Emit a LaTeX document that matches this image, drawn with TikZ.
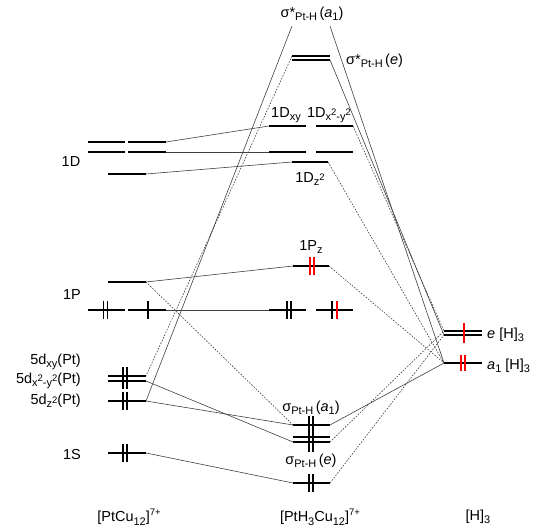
\documentclass[tikz,border=0pt]{standalone}
\usepackage{fontspec}
\setmainfont{Liberation Sans}
\begin{document}
\newcommand\sbs[1]{\raisebox{-0.45ex}{\fontsize{11}{11}\selectfont #1}}
\newcommand\sps[1]{\raisebox{0.85ex}{\fontsize{9.5}{9.5}\selectfont #1}}
\begin{tikzpicture}[x=1pt,y=-1pt,
  lvl/.style={line width=2.2pt,black},
  conn/.style={line width=0.6pt,black!75},
  dconn/.style={line width=0.6pt,black!75,dash pattern=on 1.6pt off 1.4pt},
  el/.style={line width=1.8pt,black},
  rel/.style={line width=1.8pt,red},
  lab/.style={inner sep=0pt,font=\fontsize{14.5}{16}\selectfont}]
\useasboundingbox (0,0) rectangle (558,530);
% ---------- column 1 coordinates ----------
\coordinate (DaL) at (88,142);  \coordinate (DaR) at (125,142);
\coordinate (DbL) at (128,142); \coordinate (DbR) at (166,142);
\coordinate (DcL) at (88,152);  \coordinate (DcR) at (125,152);
\coordinate (DdL) at (128,152); \coordinate (DdR) at (166,152);
\coordinate (DzL) at (108,174); \coordinate (DzR) at (146,174);
\coordinate (PuL) at (108,282); \coordinate (PuR) at (146,282);
\coordinate (PaL) at (88,310);  \coordinate (PaR) at (125,310);
\coordinate (PbL) at (128,310); \coordinate (PbR) at (166,310);
\coordinate (XaL) at (108,376); \coordinate (XaR) at (146,376);
\coordinate (XbL) at (108,381); \coordinate (XbR) at (146,381);
\coordinate (ZL) at (108,401);  \coordinate (ZR) at (146,401);
\coordinate (SL) at (108,453);  \coordinate (SR) at (146,453);
% ---------- column 2 coordinates ----------
\coordinate (AsL) at (292,26);  \coordinate (AsR) at (330,26);
\coordinate (EsaL) at (292,56); \coordinate (EsaR) at (330,56);
\coordinate (EsbL) at (292,60); \coordinate (EsbR) at (330,60);
\coordinate (MaL) at (269,126); \coordinate (MaR) at (306,126);
\coordinate (MbL) at (316,126); \coordinate (MbR) at (353,126);
\coordinate (McL) at (269,152); \coordinate (McR) at (306,152);
\coordinate (MdL) at (316,152); \coordinate (MdR) at (353,152);
\coordinate (MzL) at (292,162); \coordinate (MzR) at (328,162);
\coordinate (PzL) at (293,266); \coordinate (PzR) at (329,266);
\coordinate (QaL) at (269,310); \coordinate (QaR) at (306,310);
\coordinate (QbL) at (316,310); \coordinate (QbR) at (353,310);
\coordinate (BaL) at (293,425); \coordinate (BaR) at (330,425);
\coordinate (BbL) at (293,437); \coordinate (BbR) at (330,437);
\coordinate (BcL) at (293,442); \coordinate (BcR) at (330,442);
\coordinate (BeL) at (293,483); \coordinate (BeR) at (330,483);
% ---------- column 3 coordinates ----------
\coordinate (HeaL) at (444,331); \coordinate (HeaR) at (482,331);
\coordinate (HebL) at (444,335); \coordinate (HebR) at (482,335);
\coordinate (HaL) at (444,363);  \coordinate (HaR) at (482,363);
% ---------- connectors ----------
\draw[conn] (DbR) -- (MaL);
\draw[conn] (DdR) -- (McL);
\draw[conn] (DzR) -- (MzL);
\draw[conn] (PuR) -- (PzL);
\draw[dconn] (PuR) -- (BaL);
\draw[conn] (PbR) -- (QaL);
\draw[conn] (AsL) -- (ZR);
\draw[dconn] (EsaL) -- (XaR);
\draw[conn] (XbR) -- (BcL);
\draw[conn] (ZR) -- (BaL);
\draw[conn] (SR) -- (BeL);
\draw[conn] (AsR) -- (HaL);
\draw[conn] (EsbR) -- (HebL);
\draw[dconn] (MbR) -- (HeaL);
\draw[dconn] (MzR) -- (HaL);
\draw[dconn] (PzR) -- (HaL);
\draw[conn] (BaR) -- (HaL);
\draw[dconn] (BcR) -- (HeaL);
\draw[dconn] (BeR) -- (HebL);
% ---------- levels ----------
\foreach \a/\b in {DaL/DaR,DbL/DbR,DcL/DcR,DdL/DdR,DzL/DzR,PuL/PuR,PaL/PaR,PbL/PbR,XaL/XaR,XbL/XbR,ZL/ZR,SL/SR,
  MaL/MaR,MbL/MbR,McL/McR,MdL/MdR,MzL/MzR,PzL/PzR,QaL/QaR,QbL/QbR,BaL/BaR,BeL/BeR}
  \draw[lvl] (\a) -- (\b);
\foreach \a/\b in {EsaL/EsaR,EsbL/EsbR,BbL/BbR,BcL/BcR,HeaL/HeaR,HebL/HebR}
  \draw[line width=1.6pt] (\a) -- (\b);
\draw[lvl] (HaL) -- (HaR);
% ---------- electrons ----------
\foreach \x/\y/\h in {103.5/310/9,107.5/310/9,148/310/9,
  123/378/11,127/378/11,123/401/9,127/401/9,123/453/9,127/453/9,
  287/310/9,291/310/9,332/310/9,
  309/425/9,313/425/9,309/440/12,313/440/12,309/483/9,313/483/9}
  \draw[el] (\x,\y-\h) -- (\x,\y+\h);
\foreach \x/\y/\h in {310/266/9,314/266/9,337/310/9,464/333/10,461/363/8,465/363/8}
  \draw[rel] (\x,\y-\h) -- (\x,\y+\h);
% ---------- labels ----------
\node[lab] (tA) at (312,14) {σ*\sbs{Pt-H}\,(\textit{a}\sbs{1})};
\node[lab,anchor=west] (tE) at (346,61) {σ*\sbs{Pt-H}\,(\textit{e})};
\node[lab] (t1) at (286,115) {1D\sbs{xy}};
\node[lab] (t2) at (329,115) {1D\sbs{x\sps{2}-y\sps{2}}};
\node[lab] (t3) at (310,179) {1D\sbs{z\sps{2}}};
\node[lab] (t4) at (311,247) {1P\sbs{z}};
\node[lab] (t5) at (71,162) {1D};
\node[lab] (t6) at (72,295) {1P};
\node[lab,anchor=east] (t7) at (81,362) {5d\sbs{xy}(Pt)};
\node[lab,anchor=east] (t8) at (81,381) {5d\sbs{x\sps{2}-y\sps{2}}(Pt)};
\node[lab,anchor=east] (t9) at (81,401) {5d\sbs{z\sps{2}}(Pt)};
\node[lab,anchor=east] (t10) at (81,455) {1S};
\node[lab] (t11) at (311,408) {σ\sbs{Pt-H}\,(\textit{a}\sbs{1})};
\node[lab] (t12) at (311,461) {σ\sbs{Pt-H}\,(\textit{e})};
\node[lab,anchor=west] (t13) at (487,335) {\textit{e} [H]\sbs{3}};
\node[lab,anchor=west] (t14) at (487,366) {\textit{a}\sbs{1} [H]\sbs{3}};
\node[lab] (b1) at (129,517) {[PtCu\sbs{12}]\sps{7+}};
\node[lab] (b2) at (320,517) {[PtH\sbs{3}Cu\sbs{12}]\sps{7+}};
\node[lab] (b3) at (478,517) {[H]\sbs{3}};
\end{tikzpicture}
\end{document}
